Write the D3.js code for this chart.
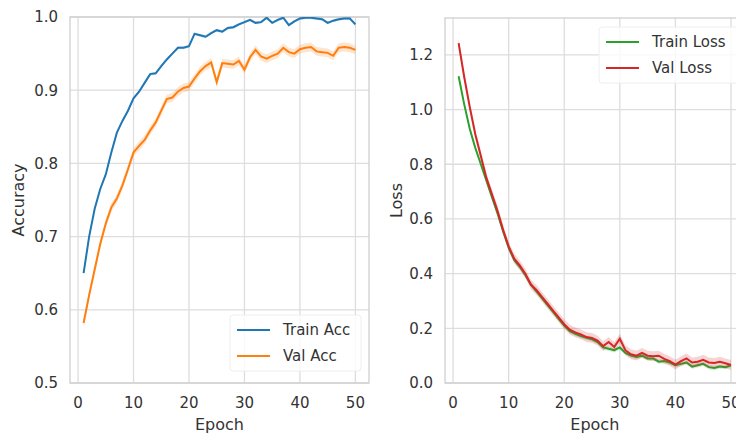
<!DOCTYPE html>
<html>
<head>
<meta charset="utf-8">
<script src="https://cdn.jsdelivr.net/npm/d3@7"></script>
<style>
    body { margin: 0; background: #fff; }
    svg { display: block; font-family: "DejaVu Sans", sans-serif; }
</style>
</head>
<body>
<div id="chartDiv"></div>
<script>

// epochs 1..50
var epochs = d3.range(1, 51);

var trainAcc = [0.650, 0.700, 0.738, 0.765, 0.785, 0.815, 0.842, 0.858, 0.872, 0.889,
    0.898, 0.910, 0.922, 0.923, 0.933, 0.942, 0.950, 0.958, 0.958, 0.960,
    0.977, 0.975, 0.973, 0.978, 0.982, 0.980, 0.985, 0.986, 0.990, 0.993,
    0.996, 0.992, 0.993, 0.999, 0.992, 0.996, 0.999, 0.989, 0.994, 0.998,
    0.999, 0.999, 0.998, 0.997, 0.992, 0.995, 0.997, 0.998, 0.998, 0.990];

var valAcc = [0.582, 0.620, 0.655, 0.690, 0.718, 0.740, 0.752, 0.770, 0.792, 0.815,
    0.824, 0.832, 0.845, 0.856, 0.872, 0.888, 0.890, 0.898, 0.903, 0.905,
    0.916, 0.926, 0.933, 0.938, 0.911, 0.937, 0.936, 0.935, 0.940, 0.928,
    0.945, 0.955, 0.946, 0.943, 0.947, 0.950, 0.958, 0.952, 0.950, 0.956,
    0.958, 0.959, 0.953, 0.952, 0.951, 0.947, 0.958, 0.959, 0.958, 0.955];

var trainLoss = [1.122, 1.020, 0.930, 0.860, 0.800, 0.740, 0.680, 0.620, 0.555, 0.495,
    0.450, 0.425, 0.395, 0.360, 0.335, 0.310, 0.285, 0.260, 0.235, 0.210,
    0.190, 0.180, 0.172, 0.165, 0.160, 0.150, 0.130, 0.125, 0.120, 0.130,
    0.110, 0.100, 0.095, 0.100, 0.090, 0.090, 0.078, 0.080, 0.075, 0.065,
    0.070, 0.075, 0.060, 0.065, 0.070, 0.058, 0.055, 0.060, 0.058, 0.065];

var valLoss = [1.243, 1.120, 1.010, 0.910, 0.830, 0.750, 0.690, 0.630, 0.560, 0.500,
    0.455, 0.430, 0.400, 0.360, 0.340, 0.315, 0.290, 0.265, 0.240, 0.215,
    0.195, 0.185, 0.178, 0.168, 0.165, 0.155, 0.135, 0.150, 0.132, 0.162,
    0.120, 0.105, 0.100, 0.110, 0.100, 0.098, 0.100, 0.088, 0.080, 0.067,
    0.080, 0.090, 0.075, 0.078, 0.085, 0.075, 0.073, 0.078, 0.072, 0.066];

// half width of the shaded spread around each curve
var bandWidth = {trainAcc: 0.002, valAcc: 0.006, trainLoss: 0.008, valLoss: 0.018};

var xTicks = [0, 10, 20, 30, 40, 50];
var accTicks = [0.5, 0.6, 0.7, 0.8, 0.9, 1.0];
var lossTicks = [0.0, 0.2, 0.4, 0.6, 0.8, 1.0, 1.2];

var colors = {
    trainAcc: "#1f77b4",
    valAcc: "#ff7f0e",
    trainLoss: "#2ca02c",
    valLoss: "#d62728"
};

var svg = d3.select("#chartDiv").append("svg")
    .attr("width", 736)
    .attr("height", 437);

function drawPanel(opts) {

    var left = opts.left, right = opts.right, top = opts.top, bottom = opts.bottom;

    var x = d3.scaleLinear()
        .domain([-1.45, 52.45])
        .range([left, right]);

    var y = d3.scaleLinear()
        .domain(opts.yDomain)
        .range([bottom, top]);

    var g = svg.append("g");

    g.append("clipPath")
        .attr("id", opts.id + "Clip")
        .append("rect")
        .attr("x", left)
        .attr("y", top)
        .attr("width", right - left)
        .attr("height", bottom - top);

    // grid
    g.selectAll(".vgrid")
        .data(xTicks)
        .enter().append("line")
        .attr("x1", function (d) { return x(d); })
        .attr("x2", function (d) { return x(d); })
        .attr("y1", top)
        .attr("y2", bottom)
        .attr("stroke", "#dddddd")
        .attr("stroke-width", 1.3);

    g.selectAll(".hgrid")
        .data(opts.yTicks)
        .enter().append("line")
        .attr("x1", left)
        .attr("x2", right)
        .attr("y1", function (d) { return y(d); })
        .attr("y2", function (d) { return y(d); })
        .attr("stroke", "#dddddd")
        .attr("stroke-width", 1.3);

    // frame
    g.append("rect")
        .attr("x", left)
        .attr("y", top)
        .attr("width", right - left)
        .attr("height", bottom - top)
        .attr("fill", "none")
        .attr("stroke", "#d0d0d0")
        .attr("stroke-width", 1.3);

    // tick labels
    g.selectAll(".xlab")
        .data(xTicks)
        .enter().append("text")
        .attr("x", function (d) { return x(d); })
        .attr("y", 408)
        .attr("text-anchor", "middle")
        .style("font-size", "15px")
        .style("fill", "#333")
        .text(function (d) { return d; });

    g.selectAll(".ylab")
        .data(opts.yTicks)
        .enter().append("text")
        .attr("x", left - 12)
        .attr("y", function (d) { return y(d); })
        .attr("dy", "0.36em")
        .attr("text-anchor", "end")
        .style("font-size", "15px")
        .style("fill", "#333")
        .text(function (d) { return d.toFixed(1); });

    g.append("text")
        .attr("x", (left + right) / 2)
        .attr("y", 430)
        .attr("text-anchor", "middle")
        .style("font-size", "16px")
        .style("fill", "#333")
        .text("Epoch");

    g.append("text")
        .attr("transform", "translate(" + opts.yLabelX + "," + ((top + bottom) / 2) + ") rotate(-90)")
        .attr("text-anchor", "middle")
        .style("font-size", "16px")
        .style("fill", "#333")
        .text(opts.yLabel);

    var plot = g.append("g")
        .attr("clip-path", "url(#" + opts.id + "Clip)");

    opts.series.forEach(function (s) {

        var band = d3.area()
            .x(function (d, i) { return x(epochs[i]); })
            .y0(function (d) { return y(d - s.band); })
            .y1(function (d) { return y(d + s.band); });

        var line = d3.line()
            .x(function (d, i) { return x(epochs[i]); })
            .y(function (d) { return y(d); });

        plot.append("path")
            .datum(s.values)
            .attr("d", band)
            .attr("fill", s.color)
            .attr("fill-opacity", 0.2);

        plot.append("path")
            .datum(s.values)
            .attr("d", line)
            .attr("fill", "none")
            .attr("stroke", s.color)
            .attr("stroke-width", 2);
    });

    // legend
    var lg = g.append("g");

    lg.append("rect")
        .attr("x", opts.legend.x)
        .attr("y", opts.legend.y)
        .attr("width", opts.legend.w)
        .attr("height", opts.legend.h)
        .attr("rx", 3)
        .attr("fill", "#fff")
        .attr("fill-opacity", 0.8)
        .attr("stroke", "#eeeeee")
        .attr("stroke-width", 1);

    opts.series.forEach(function (s, i) {
        var ly = opts.legend.y + 15 + i * 26;
        lg.append("line")
            .attr("x1", opts.legend.x + 7)
            .attr("x2", opts.legend.x + 40)
            .attr("y1", ly)
            .attr("y2", ly)
            .attr("stroke", s.color)
            .attr("stroke-width", 2);
        lg.append("text")
            .attr("x", opts.legend.x + 53)
            .attr("y", ly)
            .attr("dy", "0.36em")
            .style("font-size", "15px")
            .style("fill", "#333")
            .text(s.name);
    });
}

drawPanel({
    id: "acc",
    left: 70, right: 369, top: 17, bottom: 383,
    yDomain: [0.5, 1.0],
    yTicks: accTicks,
    yLabel: "Accuracy",
    yLabelX: 24,
    series: [
        {name: "Train Acc", values: trainAcc, color: colors.trainAcc, band: bandWidth.trainAcc},
        {name: "Val Acc", values: valAcc, color: colors.valAcc, band: bandWidth.valAcc}
    ],
    legend: {x: 230, y: 315, w: 131, h: 56}
});

drawPanel({
    id: "loss",
    left: 445, right: 744.6, top: 18, bottom: 383,
    yDomain: [0, 1.335],
    yTicks: lossTicks,
    yLabel: "Loss",
    yLabelX: 402,
    series: [
        {name: "Train Loss", values: trainLoss, color: colors.trainLoss, band: bandWidth.trainLoss},
        {name: "Val Loss", values: valLoss, color: colors.valLoss, band: bandWidth.valLoss}
    ],
    legend: {x: 599, y: 27, w: 140, h: 56}
});

</script>
</body>
</html>
